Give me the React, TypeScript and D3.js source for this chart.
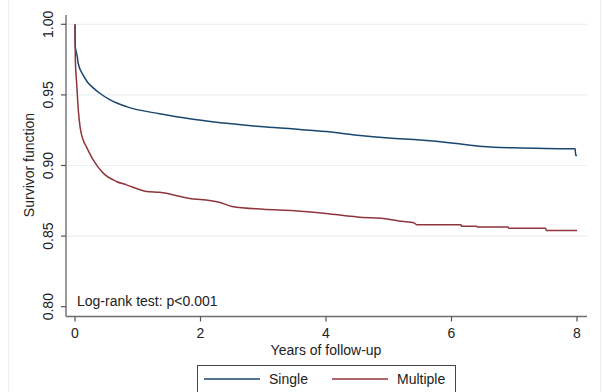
import React, { useEffect, useRef } from 'react';
import * as d3 from 'd3';

// Kaplan-Meier estimates
const singleYears = [0, 0.005, 0.037, 0.05, 0.13, 0.2, 0.29, 0.4, 0.56, 0.82, 1.35, 1.88, 2.5, 2.95, 3.5, 4.0, 4.5, 5.0, 5.5, 6.0, 6.5, 7.0, 7.5, 7.97, 7.98, 8.0];
const singleSurv = [1.0, 0.984, 0.977, 0.9724, 0.964, 0.959, 0.955, 0.951, 0.9465, 0.9417, 0.9366, 0.9328, 0.9295, 0.9276, 0.9258, 0.924, 0.9215, 0.9195, 0.918, 0.916, 0.9135, 0.9125, 0.912, 0.9118, 0.907, 0.907];

const multipleYears = [0, 0.005, 0.027, 0.053, 0.08, 0.13, 0.19, 0.29, 0.45, 0.66, 0.82, 1.14, 1.35, 1.88, 2.0, 2.3, 2.5, 3.0, 3.5, 4.0, 4.5, 5.0, 5.2, 5.4, 5.45, 6.15, 6.16, 6.4, 6.41, 6.9, 6.91, 7.5, 7.51, 8.0];
const multipleSurv = [1.0, 0.975, 0.958, 0.939, 0.9276, 0.918, 0.9125, 0.904, 0.8946, 0.8887, 0.8863, 0.8816, 0.881, 0.8763, 0.876, 0.874, 0.871, 0.869, 0.868, 0.866, 0.8635, 0.862, 0.8605, 0.8595, 0.858, 0.858, 0.857, 0.857, 0.8565, 0.8565, 0.8555, 0.8555, 0.854, 0.854];

const xTicks = [0, 2, 4, 6, 8];
const yTicks = [0.8, 0.85, 0.9, 0.95, 1.0];
const gridTicks = [0.85, 0.9, 0.95, 1.0];

const seriesNames = ['Single', 'Multiple'];
const seriesColors = ['#1a476f', '#90353b'];

export default function App() {
  const ref = useRef<SVGSVGElement>(null);

  useEffect(() => {
    draw();
    // eslint-disable-next-line react-hooks/exhaustive-deps
  }, []);

  function draw() {
    const svg = d3.select(ref.current);
    svg.selectAll('*').remove();
    const font = 'Liberation Sans, Arial, sans-serif';

    const x = d3.scaleLinear().domain([0, 8]).range([75, 577]);
    const y = d3.scaleLinear().domain([0.8, 1.0]).range([306.7, 24.3]);
    const left = 66;
    const right = 587;
    const bottom = 316.5;
    const top = 15;

    svg.append('rect').attr('width', 602).attr('height', 392).attr('fill', '#fff');
    // faint outer region lines
    svg.append('line').attr('x1', 8.5).attr('x2', 8.5).attr('y1', 0).attr('y2', 392).attr('stroke', '#eeeeee');
    svg.append('line').attr('x1', 600.5).attr('x2', 600.5).attr('y1', 0).attr('y2', 392).attr('stroke', '#eeeeee');

    // grid
    svg.selectAll('.grid')
      .data(gridTicks)
      .enter()
      .append('line')
      .attr('x1', left)
      .attr('x2', right)
      .attr('y1', (d) => y(d))
      .attr('y2', (d) => y(d))
      .attr('stroke', '#eaf2f3')
      .attr('stroke-width', 1.2);

    // axes
    svg.append('line').attr('x1', left).attr('x2', left).attr('y1', top).attr('y2', bottom).attr('stroke', '#6e6e6e').attr('stroke-width', 1.4);
    svg.append('line').attr('x1', left).attr('x2', right).attr('y1', bottom).attr('y2', bottom).attr('stroke', '#6e6e6e').attr('stroke-width', 1.4);

    const yt = svg.selectAll('.yt').data(yTicks).enter().append('g').attr('transform', (d) => `translate(${left},${y(d)})`);
    yt.append('line').attr('x1', -5).attr('x2', 0).attr('stroke', '#555').attr('stroke-width', 1.2);
    yt.append('text')
      .attr('transform', 'translate(-13,0) rotate(-90)')
      .attr('text-anchor', 'middle')
      .attr('font-family', font)
      .attr('font-size', 14)
      .attr('fill', '#222')
      .text((d) => d.toFixed(2));

    const xt = svg.selectAll('.xt').data(xTicks).enter().append('g').attr('transform', (d) => `translate(${x(d)},${bottom})`);
    xt.append('line').attr('y1', 0).attr('y2', 5).attr('stroke', '#555').attr('stroke-width', 1.2);
    xt.append('text')
      .attr('y', 21)
      .attr('text-anchor', 'middle')
      .attr('font-family', font)
      .attr('font-size', 14)
      .attr('fill', '#222')
      .text((d) => d);

    svg.append('text')
      .attr('x', 326)
      .attr('y', 355)
      .attr('text-anchor', 'middle')
      .attr('font-family', font)
      .attr('font-size', 14)
      .attr('fill', '#222')
      .text('Years of follow-up');

    svg.append('text')
      .attr('transform', 'translate(34,165) rotate(-90)')
      .attr('text-anchor', 'middle')
      .attr('font-family', font)
      .attr('font-size', 14)
      .attr('fill', '#222')
      .text('Survivor function');

    // curves
    const series = [
      singleYears.map((t, i) => [t, singleSurv[i]]),
      multipleYears.map((t, i) => [t, multipleSurv[i]]),
    ];
    const line = d3
      .line<number[]>()
      .x((d) => x(d[0]))
      .y((d) => y(d[1]))
      .curve(d3.curveMonotoneX);
    series.forEach((s, i) => {
      svg.append('path')
        .attr('d', line(s))
        .attr('fill', 'none')
        .attr('stroke', seriesColors[i])
        .attr('stroke-width', 1.5);
    });

    svg.append('text')
      .attr('x', 77)
      .attr('y', 306)
      .attr('font-family', font)
      .attr('font-size', 14)
      .attr('fill', '#222')
      .text('Log-rank test: p<0.001');

    // legend
    svg.append('rect')
      .attr('x', 197.5)
      .attr('y', 365.5)
      .attr('width', 258)
      .attr('height', 40)
      .attr('fill', '#fff')
      .attr('stroke', '#444')
      .attr('stroke-width', 1);
    const legendX = [204, 332];
    seriesNames.forEach((name, i) => {
      svg.append('line')
        .attr('x1', legendX[i])
        .attr('x2', legendX[i] + 56)
        .attr('y1', 379)
        .attr('y2', 379)
        .attr('stroke', seriesColors[i])
        .attr('stroke-width', 1.5);
      svg.append('text')
        .attr('x', legendX[i] + 65)
        .attr('y', 384)
        .attr('font-family', font)
        .attr('font-size', 14)
        .attr('fill', '#222')
        .text(name);
    });
  }

  return (
    <svg
      ref={ref}
      width={602}
      height={392}
      style={{ position: 'absolute', left: 0, top: 0 }}
    />
  );
}
